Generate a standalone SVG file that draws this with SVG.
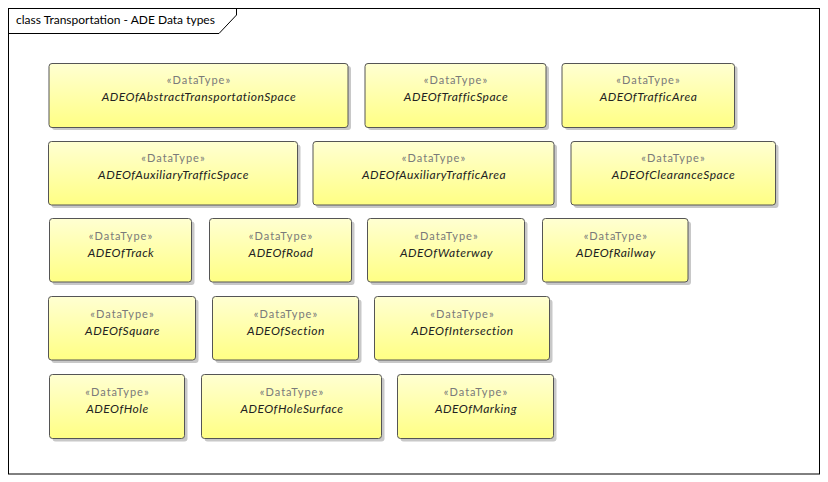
<svg xmlns="http://www.w3.org/2000/svg" width="828" height="482" viewBox="0 0 828 482">
<style>
.frame{fill:#fff;stroke:#000;stroke-width:1}
.box{fill:url(#g);stroke:#555;stroke-width:1}
.sh{fill:#c8c8c8}
.st{font-family:Lato,"Liberation Sans",sans-serif;font-size:11px;letter-spacing:1px;fill:#7a7a7a;text-anchor:middle}
.nm{font-family:Lato,"Liberation Sans",sans-serif;font-size:12px;letter-spacing:0.5px;font-style:italic;fill:#222;text-anchor:middle}
.ttl{font-family:Lato,"Liberation Sans",sans-serif;font-size:12px;fill:#000}
</style>
<defs>
<linearGradient id="g" x1="0" y1="0" x2="0" y2="1">
<stop offset="0" stop-color="#ffffd2"/>
<stop offset="1" stop-color="#ffff84"/>
</linearGradient>
</defs>
<rect width="828" height="482" fill="#fff"/>
<g id="frame">
<rect class="frame" x="8.5" y="8.5" width="811" height="465.5"/>
<path d="M8.5 33.5 H219 L236.5 15 V8.5" fill="none" stroke="#000"/>
<text class="ttl" x="16" y="24">class Transportation - ADE Data types</text>
</g>
<g id="n1"><rect class="sh" x="52" y="66" width="299" height="64" rx="3"/><rect class="box" x="49" y="63.5" width="299" height="64" rx="3"/><text class="st" x="199" y="84">«DataType»</text><text class="nm" x="199" y="101">ADEOfAbstractTransportationSpace</text></g>
<g id="n2"><rect class="sh" x="368" y="66" width="181" height="64" rx="3"/><rect class="box" x="365" y="63.5" width="181" height="64" rx="3"/><text class="st" x="456" y="84">«DataType»</text><text class="nm" x="456" y="101">ADEOfTrafficSpace</text></g>
<g id="n3"><rect class="sh" x="565" y="66" width="172.5" height="64" rx="3"/><rect class="box" x="562" y="63.5" width="172.5" height="64" rx="3"/><text class="st" x="648.5" y="84">«DataType»</text><text class="nm" x="648.5" y="101">ADEOfTrafficArea</text></g>
<g id="n4"><rect class="sh" x="51.5" y="144.5" width="249" height="63.5" rx="3"/><rect class="box" x="48.5" y="141.5" width="249" height="63.5" rx="3"/><text class="st" x="173.5" y="162">«DataType»</text><text class="nm" x="173.5" y="179">ADEOfAuxiliaryTrafficSpace</text></g>
<g id="n5"><rect class="sh" x="316" y="144.5" width="241" height="63.5" rx="3"/><rect class="box" x="313" y="141.5" width="241" height="63.5" rx="3"/><text class="st" x="434" y="162">«DataType»</text><text class="nm" x="434" y="179">ADEOfAuxiliaryTrafficArea</text></g>
<g id="n6"><rect class="sh" x="574" y="144.5" width="204.5" height="63.5" rx="3"/><rect class="box" x="571" y="141.5" width="204.5" height="63.5" rx="3"/><text class="st" x="673.5" y="162">«DataType»</text><text class="nm" x="673.5" y="179">ADEOfClearanceSpace</text></g>
<g id="n7"><rect class="sh" x="52.5" y="221.5" width="142" height="63.5" rx="3"/><rect class="box" x="49.5" y="218.5" width="142" height="63.5" rx="3"/><text class="st" x="121" y="240">«DataType»</text><text class="nm" x="121" y="257">ADEOfTrack</text></g>
<g id="n8"><rect class="sh" x="212.5" y="221.5" width="142" height="63.5" rx="3"/><rect class="box" x="209.5" y="218.5" width="142" height="63.5" rx="3"/><text class="st" x="281" y="240">«DataType»</text><text class="nm" x="281" y="257">ADEOfRoad</text></g>
<g id="n9"><rect class="sh" x="370.5" y="221.5" width="157" height="63.5" rx="3"/><rect class="box" x="367.5" y="218.5" width="157" height="63.5" rx="3"/><text class="st" x="446.5" y="240">«DataType»</text><text class="nm" x="446.5" y="257">ADEOfWaterway</text></g>
<g id="n10"><rect class="sh" x="545.5" y="221.5" width="145.5" height="63.5" rx="3"/><rect class="box" x="542.5" y="218.5" width="145.5" height="63.5" rx="3"/><text class="st" x="615.8" y="240">«DataType»</text><text class="nm" x="615.8" y="257">ADEOfRailway</text></g>
<g id="n11"><rect class="sh" x="51.5" y="299.5" width="147" height="63.5" rx="3"/><rect class="box" x="48.5" y="296.5" width="147" height="63.5" rx="3"/><text class="st" x="122.5" y="318">«DataType»</text><text class="nm" x="122.5" y="335">ADEOfSquare</text></g>
<g id="n12"><rect class="sh" x="215.5" y="299.5" width="146" height="63.5" rx="3"/><rect class="box" x="212.5" y="296.5" width="146" height="63.5" rx="3"/><text class="st" x="286" y="318">«DataType»</text><text class="nm" x="286" y="335">ADEOfSection</text></g>
<g id="n13"><rect class="sh" x="377.5" y="299.5" width="175" height="63.5" rx="3"/><rect class="box" x="374.5" y="296.5" width="175" height="63.5" rx="3"/><text class="st" x="462.5" y="318">«DataType»</text><text class="nm" x="462.5" y="335">ADEOfIntersection</text></g>
<g id="n14"><rect class="sh" x="52.5" y="377.5" width="135" height="64" rx="3"/><rect class="box" x="49.5" y="374.5" width="135" height="64" rx="3"/><text class="st" x="117.5" y="396">«DataType»</text><text class="nm" x="117.5" y="413">ADEOfHole</text></g>
<g id="n15"><rect class="sh" x="204.5" y="377.5" width="180" height="64" rx="3"/><rect class="box" x="201.5" y="374.5" width="180" height="64" rx="3"/><text class="st" x="292" y="396">«DataType»</text><text class="nm" x="292" y="413">ADEOfHoleSurface</text></g>
<g id="n16"><rect class="sh" x="400.5" y="377.5" width="156" height="64" rx="3"/><rect class="box" x="397.5" y="374.5" width="156" height="64" rx="3"/><text class="st" x="476" y="396">«DataType»</text><text class="nm" x="476" y="413">ADEOfMarking</text></g>
<g id="connectors"></g>
</svg>
